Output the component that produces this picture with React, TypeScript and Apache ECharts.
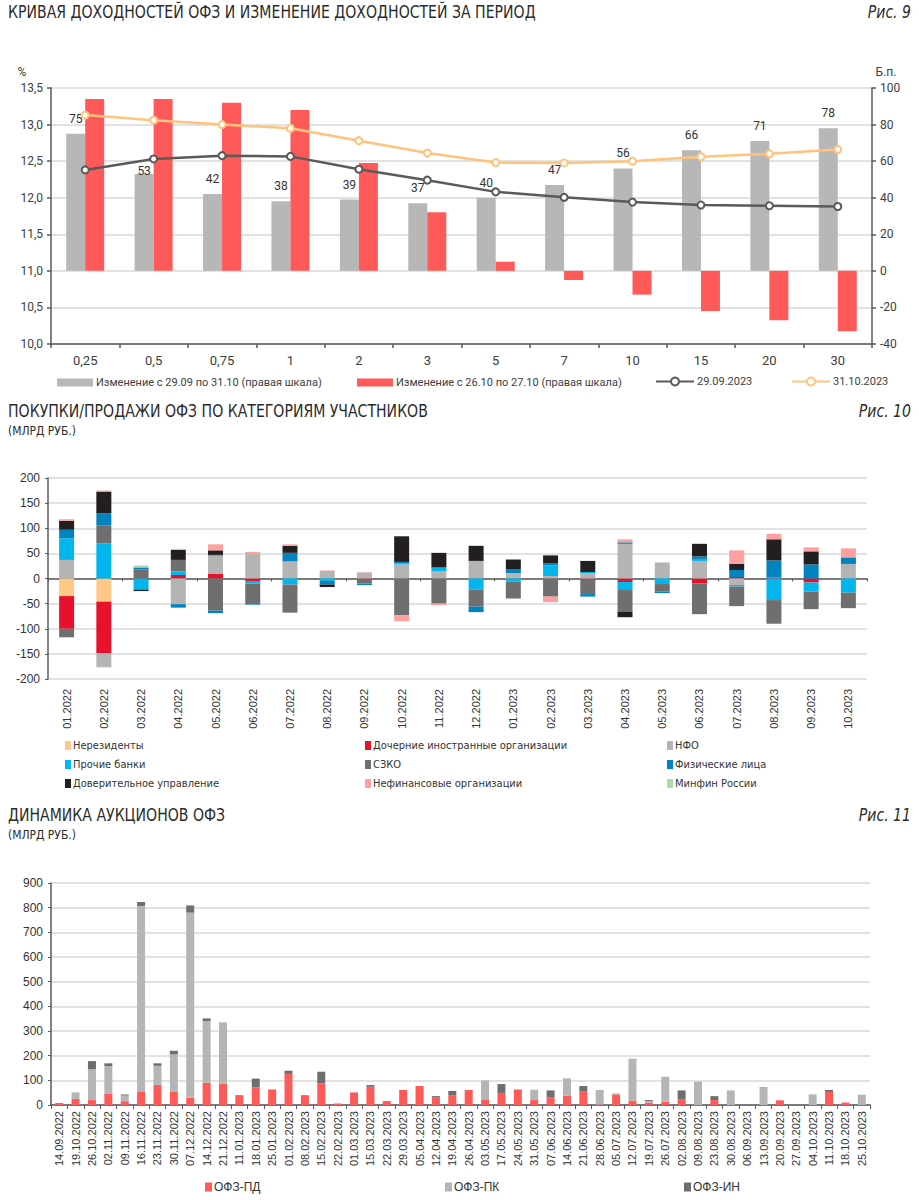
import React, { useEffect, useRef } from "react";
import * as echarts from "echarts";

// ---------- Chart 1 (Рис. 9) ----------
const tenors = ["0,25", "0,5", "0,75", "1", "2", "3", "5", "7", "10", "15", "20", "30"];
const changeMonth = [75, 53, 42, 38, 39, 37, 40, 47, 56, 66, 71, 78];
const changeDay = [94, 94, 92, 88, 59, 32, 5, -5, -13, -22, -27, -33];
const yield2909 = [12.38, 12.53, 12.575, 12.565, 12.39, 12.24, 12.08, 12.005, 11.94, 11.9, 11.89, 11.88];
const yield3110 = [13.13, 13.06, 13.0, 12.95, 12.78, 12.61, 12.48, 12.475, 12.5, 12.56, 12.6, 12.66];

// ---------- Chart 2 (Рис. 10) ----------
const months = [
  "01.2022", "02.2022", "03.2022", "04.2022", "05.2022", "06.2022", "07.2022", "08.2022", "09.2022", "10.2022", "11.2022", "12.2022",
  "01.2023", "02.2023", "03.2023", "04.2023", "05.2023", "06.2023", "07.2023", "08.2023", "09.2023", "10.2023",
];
const nonResidents = [-35, -46, 0, 0, 0, 0, 0, 0, 0, 0, 0, 0, 0, 0, 0, 0, 0, 0, 0, 0, 0, 0];
const foreignSubs = [-65, -103, 0, 7, 9, -5, 0, 0, -2, 0, 0, 0, 0, 0, -2, -7, 0, -10, 3, 2, -8, 0];
const nfo = [37, -27, 0, -51, 36, 50, 34, 15, 12, 28, 14, 35, 11, 5, 10, 69, 32, 35, -13, 0, 0, 29];
const otherBanks = [43, 70, -22, 7, 2, -5, -12, -5, 0, 2, 8, -22, -6, 21, 3, -16, -11, 4, -3, -43, -18, -28];
const szko = [-17, 36, 18, 23, -64, -39, -56, 0, -8, -73, -50, -34, -34, -36, -29, -43, -15, -61, -39, -47, -35, -31];
const individuals = [17, 24, 4, -7, -5, -3, 17, -7, -3, 3, 0, -11, 7, 4, -5, 3, -3, 5, 14, 34, 28, 13];
const trustMgmt = [18, 43, -3, 20, 9, 0, 14, -5, 0, 51, 29, 30, 20, 16, 22, -11, 0, 25, 12, 42, 26, 0];
const nonFinancial = [3, 2, 0, 0, 12, 3, 3, 1, 1, -12, -3, 0, 0, -11, 0, 6, 0, 0, 27, 11, 8, 18];
const minfin = [0, -1, 4, 2, 0, 0, 0, 0, 0, 0, 0, 0, 0, 0, 0, 0, 0, 0, 0, 0, 0, 0];

const participantNames = [
  "Нерезиденты", "Дочерние иностранные организации", "НФО",
  "Прочие банки", "СЗКО", "Физические лица",
  "Доверительное управление", "Нефинансовые организации", "Минфин России",
];
const participantData = [nonResidents, foreignSubs, nfo, otherBanks, szko, individuals, trustMgmt, nonFinancial, minfin];
const participantColors = ["#FFC887", "#E8102C", "#B4B4B4", "#00B6EC", "#6F6F6F", "#0083BF", "#231F20", "#FFA0A0", "#B0D8B0"];

// ---------- Chart 3 (Рис. 11) ----------
const auctionDates = [
  "14.09.2022", "19.10.2022", "26.10.2022", "02.11.2022", "09.11.2022", "16.11.2022", "23.11.2022", "30.11.2022", "07.12.2022", "14.12.2022",
  "21.12.2022", "11.01.2023", "18.01.2023", "25.01.2023", "01.02.2023", "08.02.2023", "15.02.2023", "22.02.2023", "01.03.2023", "15.03.2023",
  "22.03.2023", "29.03.2023", "05.04.2023", "12.04.2023", "19.04.2023", "26.04.2023", "03.05.2023", "17.05.2023", "24.05.2023", "31.05.2023",
  "07.06.2023", "14.06.2023", "21.06.2023", "28.06.2023", "05.07.2023", "12.07.2023", "19.07.2023", "26.07.2023", "02.08.2023", "09.08.2023",
  "23.08.2023", "30.08.2023", "06.09.2023", "13.09.2023", "20.09.2023", "27.09.2023", "04.10.2023", "11.10.2023", "18.10.2023", "25.10.2023",
];
const ofzPD = [8, 25, 20, 47, 15, 55, 82, 53, 30, 90, 86, 40, 72, 63, 126, 40, 88, 6, 51, 74, 16, 61, 77, 32, 38, 61, 23, 49, 63, 20, 32, 38, 54, 2, 43, 18, 10, 13, 24, 0, 20, 0, 0, 0, 19, 0, 0, 53, 10, 0];
const ofzPK = [0, 26, 125, 111, 24, 752, 77, 152, 750, 250, 249, 0, 0, 0, 0, 0, 0, 0, 0, 0, 0, 0, 0, 0, 0, 0, 77, 0, 0, 42, 0, 70, 0, 59, 4, 170, 5, 102, 0, 95, 0, 59, 0, 73, 0, 0, 43, 0, 0, 42];
const ofzIN = [0, 0, 33, 11, 4, 16, 10, 15, 29, 11, 0, 0, 35, 0, 13, 0, 47, 0, 0, 7, 0, 0, 0, 4, 19, 0, 0, 36, 0, 0, 27, 0, 23, 0, 0, 0, 5, 0, 35, 0, 16, 0, 0, 0, 0, 0, 0, 8, 0, 0];

const ROUND = "Roboto, 'Noto Sans', sans-serif";
const NARROW = "'Liberation Sans Narrow', 'DejaVu Sans Condensed', sans-serif";
const ARIAL = "'Liberation Sans', Arial, sans-serif";
const AXIS = "#595959";
const GRIDLINE = "#D9D9D9";
const LABEL = "#404040";

function buildOption(): any {
  const titleText = (text: string, y: number, size = 17) => ({
    type: "text",
    x: 8,
    y,
    scaleX: 0.92,
    style: { text, x: 0, y: 0, fill: "#2b2b2b", font: `${size}px ${NARROW}`, textAlign: "left", textVerticalAlign: "middle", align: "left", verticalAlign: "middle" },
  });
  const figText = (text: string, y: number) => ({
    type: "text",
    x: 911,
    y,
    scaleX: 0.92,
    style: { text, x: 0, y: 0, fill: "#2b2b2b", font: `italic 17px ${NARROW}`, textAlign: "right", textVerticalAlign: "middle", align: "right", verticalAlign: "middle" },
  });
  const smallText = (text: string, x: number, y: number, align: string, font: string) => ({
    type: "text",
    style: { text, x, y, fill: LABEL, font, textAlign: align, textVerticalAlign: "middle", align, verticalAlign: "middle" },
  });

  const chart2Series = participantNames.map((name, i) => ({
    name,
    type: "bar",
    xAxisIndex: 1,
    yAxisIndex: 2,
    stack: "participants",
    barWidth: 15,
    itemStyle: { color: participantColors[i] },
    data: participantData[i],
  }));

  const auctionSeries = [
    { name: "ОФЗ-ПД", data: ofzPD, color: "#FF5A5A" },
    { name: "ОФЗ-ПК", data: ofzPK, color: "#B5B5B5" },
    { name: "ОФЗ-ИН", data: ofzIN, color: "#6E6E6E" },
  ].map((s) => ({
    name: s.name,
    type: "bar",
    xAxisIndex: 3,
    yAxisIndex: 3,
    stack: "auctions",
    barWidth: 8,
    itemStyle: { color: s.color },
    data: s.data,
  }));

  const legendCol = (names: string[], left: number) => ({
    data: names,
    left,
    top: 734,
    orient: "vertical",
    icon: "rect",
    itemWidth: 6,
    itemHeight: 9,
    itemGap: 6,
    selectedMode: false,
    textStyle: { fontFamily: NARROW, fontSize: 11, color: "#333", padding: [0, 0, 0, -3], lineHeight: 13 },
  });

  const chart1Legend = (name: string, left: number, isLine: boolean) => ({
    data: [name],
    left,
    top: isLine ? 371 : 372,
    ...(isLine ? {} : { icon: "rect" }),
    itemWidth: isLine ? 38 : 36,
    itemHeight: isLine ? 10 : 8,
    selectedMode: false,
    textStyle: { fontFamily: ROUND, fontSize: 11, color: LABEL, padding: [0, 0, 0, -2] },
  });

  const auctionLegend = (name: string, left: number) => ({
    data: [name],
    left,
    top: 1176,
    icon: "rect",
    itemWidth: 7,
    itemHeight: 9,
    selectedMode: false,
    textStyle: { fontFamily: ARIAL, fontSize: 12, color: "#333", padding: [0, 0, 0, -3] },
  });

  return {
    animation: false,
    backgroundColor: "#ffffff",
    graphic: [
      titleText("КРИВАЯ ДОХОДНОСТЕЙ ОФЗ И ИЗМЕНЕНИЕ ДОХОДНОСТЕЙ ЗА ПЕРИОД", 12),
      figText("Рис. 9", 12),
      smallText("%", 22, 72, "center", `12px ${ROUND}`),
      smallText("Б.п.", 886, 72, "center", `12px ${ROUND}`),
      titleText("ПОКУПКИ/ПРОДАЖИ ОФЗ ПО КАТЕГОРИЯМ УЧАСТНИКОВ", 411),
      titleText("(МЛРД РУБ.)", 430, 13),
      figText("Рис. 10", 411),
      titleText("ДИНАМИКА АУКЦИОНОВ ОФЗ", 815),
      titleText("(МЛРД РУБ.)", 834, 13),
      figText("Рис. 11", 815),
    ],
    grid: [
      { left: 51, right: 47, top: 88, height: 256 },
      { left: 48, right: 52, top: 478, height: 201 },
      { left: 51, right: 49, top: 883, height: 222 },
    ],
    legend: [
      chart1Legend("Изменение с 29.09 по 31.10 (правая шкала)", 52, false),
      chart1Legend("Изменение с 26.10 по 27.10 (правая шкала)", 352, false),
      chart1Legend("29.09.2023", 650, true),
      chart1Legend("31.10.2023", 786, true),
      legendCol(["Нерезиденты", "Прочие банки", "Доверительное управление"], 60),
      legendCol(["Дочерние иностранные организации", "СЗКО", "Нефинансовые организации"], 360),
      legendCol(["НФО", "Физические лица", "Минфин России"], 662),
      auctionLegend("ОФЗ-ПД", 200),
      auctionLegend("ОФЗ-ПК", 440),
      auctionLegend("ОФЗ-ИН", 679),
    ],
    xAxis: [
      {
        type: "category", gridIndex: 0, data: tenors,
        axisLine: { onZero: false, lineStyle: { color: AXIS, width: 1.5 } },
        axisTick: { show: true, length: 4, lineStyle: { color: AXIS, width: 1.5 } },
        axisLabel: { color: LABEL, fontFamily: ROUND, fontSize: 13, margin: 10 },
      },
      {
        type: "category", gridIndex: 1, data: months, position: "bottom",
        axisLine: { show: false, onZero: false },
        axisTick: { show: false },
        axisLabel: { color: "#333", fontFamily: ARIAL, fontSize: 11, rotate: 90, margin: 10, interval: 0 },
      },
      {
        type: "category", gridIndex: 1, data: months, position: "bottom",
        axisLine: { onZero: true, lineStyle: { color: AXIS, width: 1.5 } },
        axisTick: { show: true, length: 3, lineStyle: { color: AXIS, width: 1 } },
        axisLabel: { show: false },
      },
      {
        type: "category", gridIndex: 2, data: auctionDates,
        axisLine: { onZero: false, lineStyle: { color: AXIS, width: 1.5 } },
        axisTick: { show: true, length: 4, interval: 0, lineStyle: { color: AXIS, width: 1 } },
        axisLabel: { color: "#333", fontFamily: ARIAL, fontSize: 11, rotate: 90, margin: 6, interval: 0 },
      },
    ],
    yAxis: [
      {
        type: "value", gridIndex: 0, min: 10, max: 13.5, interval: 0.5,
        axisLine: { show: true, lineStyle: { color: AXIS, width: 1.5 } },
        axisTick: { show: true, length: 4, lineStyle: { color: AXIS, width: 1.5 } },
        splitLine: { lineStyle: { color: GRIDLINE, width: 1.5 } },
        axisLabel: { color: LABEL, fontFamily: ROUND, fontSize: 12, margin: 8, formatter: (v: number) => v.toFixed(1).replace(".", ",") },
      },
      {
        type: "value", gridIndex: 0, position: "right", min: -40, max: 100, interval: 20,
        axisLine: { show: true, lineStyle: { color: AXIS, width: 1.5 } },
        axisTick: { show: true, length: 4, lineStyle: { color: AXIS, width: 1.5 } },
        splitLine: { show: false },
        axisLabel: { color: LABEL, fontFamily: ROUND, fontSize: 12, margin: 8 },
      },
      {
        type: "value", gridIndex: 1, min: -200, max: 200, interval: 50,
        axisLine: { show: true, lineStyle: { color: AXIS, width: 1.5 } },
        axisTick: { show: true, length: 3, lineStyle: { color: AXIS } },
        splitLine: { lineStyle: { color: GRIDLINE, width: 1.5 } },
        axisLabel: { color: "#333", fontFamily: ARIAL, fontSize: 12, margin: 8 },
      },
      {
        type: "value", gridIndex: 2, min: 0, max: 900, interval: 100,
        axisLine: { show: true, lineStyle: { color: AXIS, width: 1.5 } },
        axisTick: { show: true, length: 3, lineStyle: { color: AXIS } },
        splitLine: { lineStyle: { color: GRIDLINE, width: 1.5 } },
        axisLabel: { color: "#333", fontFamily: ARIAL, fontSize: 12, margin: 8 },
      },
    ],
    series: [
      {
        name: "Изменение с 29.09 по 31.10 (правая шкала)", type: "bar", xAxisIndex: 0, yAxisIndex: 1,
        // the label of the 0,5 bar sits lower in the reference, clear of the line
        data: changeMonth.map((v, i) => (i === 1 ? { value: v, label: { distance: -3 } } : v)),
        barWidth: 19, barGap: "0%", itemStyle: { color: "#B7B7B7" },
        label: { show: true, position: "top", distance: 9, color: "#333", fontFamily: ROUND, fontSize: 12 },
      },
      {
        name: "Изменение с 26.10 по 27.10 (правая шкала)", type: "bar", xAxisIndex: 0, yAxisIndex: 1,
        data: changeDay, barWidth: 19, barGap: "0%", itemStyle: { color: "#FF5A5A" },
      },
      {
        name: "29.09.2023", type: "line", xAxisIndex: 0, yAxisIndex: 0, data: yield2909,
        symbol: "circle", symbolSize: 7, lineStyle: { color: "#5A5A5A", width: 2.5 },
        itemStyle: { color: "#ffffff", borderColor: "#5A5A5A", borderWidth: 2 }, z: 5,
      },
      {
        name: "31.10.2023", type: "line", xAxisIndex: 0, yAxisIndex: 0, data: yield3110,
        symbol: "circle", symbolSize: 7, lineStyle: { color: "#FFC37D", width: 2.5 },
        itemStyle: { color: "#ffffff", borderColor: "#FFC37D", borderWidth: 2 }, z: 5,
      },
      ...chart2Series,
      ...auctionSeries,
    ],
  };
}

export default function App() {
  const ref = useRef<HTMLDivElement>(null);
  useEffect(() => {
    if (!ref.current) return;
    const chart = echarts.init(ref.current, undefined, { renderer: "svg" });
    chart.setOption(buildOption());
    return () => chart.dispose();
  }, []);
  return <div ref={ref} style={{ position: "absolute", left: 0, top: 0, width: 919, height: 1200, background: "#fff" }} />;
}
